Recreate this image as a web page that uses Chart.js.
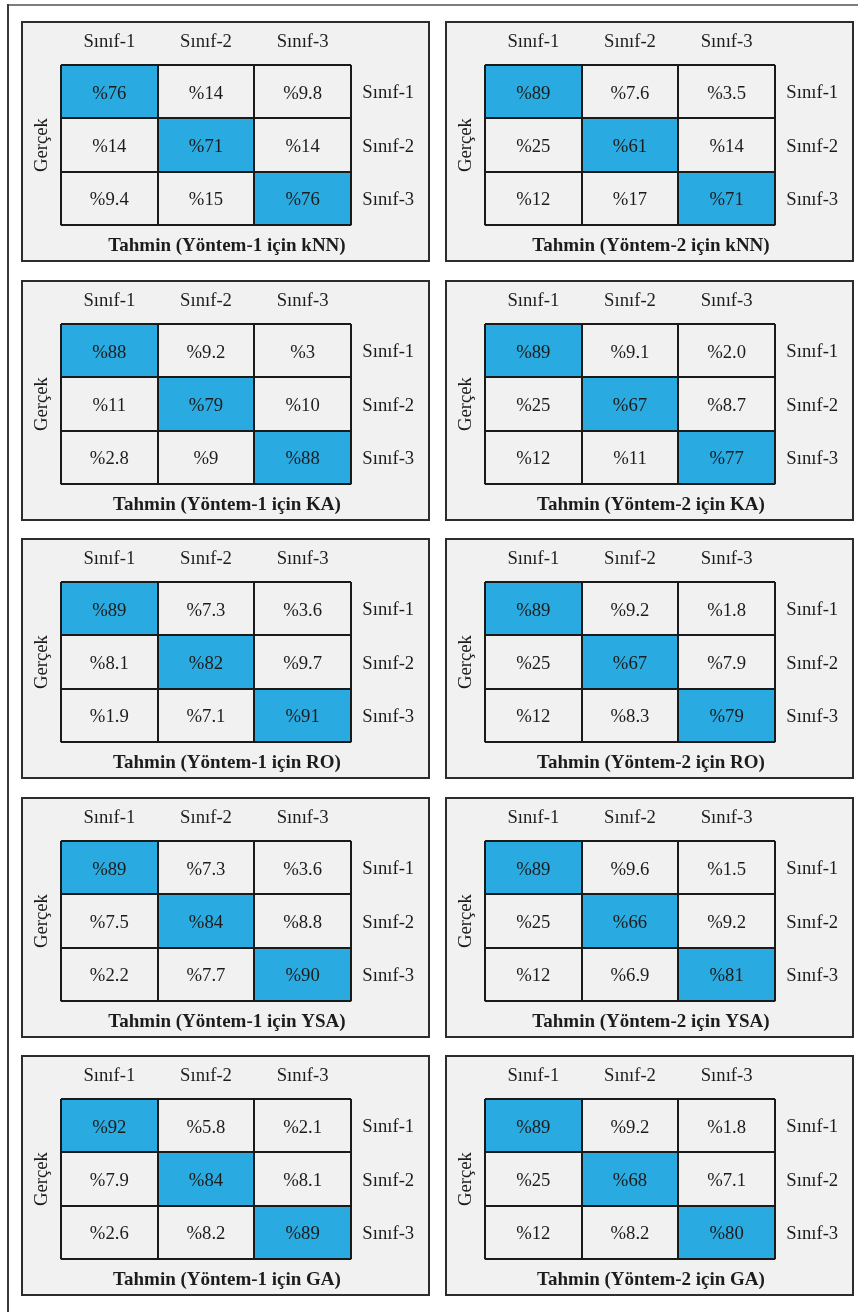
<!DOCTYPE html>
<html lang="tr">
<head>
<meta charset="utf-8">
<title>Karışıklık matrisleri</title>
<script src="https://cdn.jsdelivr.net/npm/chart.js@4.4.1/dist/chart.umd.min.js"></script>
<style>
  html, body { margin: 0; padding: 0; background: #ffffff; }
  body { width: 858px; height: 1312px; position: relative; overflow: hidden; }
  .frame-top { position: absolute; left: 7px; top: 4px; right: 0; height: 2px; background: #7d7d7d; }
  .frame-left { position: absolute; left: 7px; top: 4px; bottom: 0; width: 2px; background: #3a3a3a; }
  canvas { position: absolute; }
</style>
</head>
<body>
<div class="frame-top"></div>
<div class="frame-left"></div>
<script>
// Class names used for predicted (columns) and actual (rows) axes
const classLabels = ['Sınıf-1', 'Sınıf-2', 'Sınıf-3'];

// Confusion matrices in percent, rows = actual class, columns = predicted class
const knnYontem1 = [['76', '14', '9.8'], ['14', '71', '14'], ['9.4', '15', '76']];
const knnYontem2 = [['89', '7.6', '3.5'], ['25', '61', '14'], ['12', '17', '71']];
const kaYontem1  = [['88', '9.2', '3'], ['11', '79', '10'], ['2.8', '9', '88']];
const kaYontem2  = [['89', '9.1', '2.0'], ['25', '67', '8.7'], ['12', '11', '77']];
const roYontem1  = [['89', '7.3', '3.6'], ['8.1', '82', '9.7'], ['1.9', '7.1', '91']];
const roYontem2  = [['89', '9.2', '1.8'], ['25', '67', '7.9'], ['12', '8.3', '79']];
const ysaYontem1 = [['89', '7.3', '3.6'], ['7.5', '84', '8.8'], ['2.2', '7.7', '90']];
const ysaYontem2 = [['89', '9.6', '1.5'], ['25', '66', '9.2'], ['12', '6.9', '81']];
const gaYontem1  = [['92', '5.8', '2.1'], ['7.9', '84', '8.1'], ['2.6', '8.2', '89']];
const gaYontem2  = [['89', '9.2', '1.8'], ['25', '68', '7.1'], ['12', '8.2', '80']];

// Panel order: one row per classifier, Yöntem-1 left and Yöntem-2 right
const methodNames = ['kNN', 'KA', 'RO', 'YSA', 'GA'];
const matricesYontem1 = [knnYontem1, kaYontem1, roYontem1, ysaYontem1, gaYontem1];
const matricesYontem2 = [knnYontem2, kaYontem2, roYontem2, ysaYontem2, gaYontem2];

// ---- styling / layout ----
const FONT = '"Liberation Serif", "Times New Roman", serif';
const FONT_SIZE = 18.7;
const TEXT_COLOR = '#1c1c1c';
const DIAG_COLOR = '#29aae1';
const CELL_COLOR = '#f1f1f1';
const PANEL_BG = '#f1f1f1';
const PANEL_BORDER = '#2c2c2c';
const GRID_COLOR = '#1a1a1a';

const PANEL_W = 409, PANEL_H = 241;
const PANEL_LEFT = [21, 445];
const PANEL_TOP = [21, 280, 538, 797, 1055];

const panelFrame = {
  id: 'panelFrame',
  beforeDraw(chart) {
    const { ctx, width, height } = chart;
    ctx.save();
    ctx.fillStyle = PANEL_BG;
    ctx.fillRect(0, 0, width, height);
    ctx.restore();
  },
  afterDraw(chart) {
    const { ctx, width, height } = chart;
    ctx.save();
    ctx.strokeStyle = PANEL_BORDER;
    ctx.lineWidth = 2;
    ctx.strokeRect(1, 1, width - 2, height - 2);
    ctx.restore();
  }
};

const cellText = {
  id: 'cellText',
  afterDatasetsDraw(chart) {
    const ctx = chart.ctx;
    ctx.save();
    ctx.font = FONT_SIZE + 'px ' + FONT;
    ctx.fillStyle = TEXT_COLOR;
    ctx.textAlign = 'center';
    ctx.textBaseline = 'middle';
    chart.data.datasets.forEach((ds, i) => {
      chart.getDatasetMeta(i).data.forEach((bar, j) => {
        const cy = (bar.y + bar.base) / 2;
        ctx.fillText('%' + ds.data[j].text, bar.x, cy + 2);
      });
    });
    ctx.restore();
  }
};

function buildDatasets(matrix) {
  return matrix.map((row, r) => ({
    label: classLabels[r],
    data: row.map((text, c) => ({ x: classLabels[c], y: [r, r + 1], v: Number(text), text })),
    backgroundColor: row.map((_, c) => (c === r ? DIAG_COLOR : CELL_COLOR)),
    borderWidth: 0,
    grouped: false,
    barPercentage: 1,
    categoryPercentage: 1
  }));
}

function makePanel(matrix, yontem, method, left, top) {
  const canvas = document.createElement('canvas');
  canvas.width = PANEL_W;
  canvas.height = PANEL_H;
  canvas.style.left = left + 'px';
  canvas.style.top = top + 'px';
  canvas.style.width = PANEL_W + 'px';
  canvas.style.height = PANEL_H + 'px';
  document.body.appendChild(canvas);

  const tickFont = { family: FONT, size: FONT_SIZE };

  new Chart(canvas, {
    type: 'bar',
    data: { labels: classLabels, datasets: buildDatasets(matrix) },
    plugins: [panelFrame, cellText],
    options: {
      responsive: false,
      devicePixelRatio: 1,
      animation: false,
      layout: { padding: { left: 3, right: 0, top: 0, bottom: 0 } },
      plugins: {
        legend: { display: false },
        tooltip: { enabled: false },
        title: {
          display: true,
          position: 'bottom',
          text: 'Tahmin (Yöntem-' + yontem + ' için ' + method + ')',
          color: TEXT_COLOR,
          font: { family: FONT, size: 19, weight: 'bold' },
          padding: { top: 9, bottom: 5 }
        }
      },
      scales: {
        x: {
          type: 'category',
          position: 'top',
          offset: true,
          grid: { display: true, offset: true, color: GRID_COLOR, lineWidth: 2, drawTicks: false, z: 1 },
          border: { display: false },
          ticks: { font: tickFont, color: TEXT_COLOR, padding: 11.5, maxRotation: 0 },
          afterFit(scale) { scale.height = 44; }
        },
        y: {
          type: 'linear',
          position: 'left',
          min: 0,
          max: 3,
          reverse: true,
          grid: { display: false, drawTicks: false },
          border: { display: false },
          ticks: { display: false },
          title: {
            display: true,
            text: 'Gerçek',
            color: TEXT_COLOR,
            font: { family: FONT, size: FONT_SIZE },
            padding: { top: 7, bottom: 0 }
          },
          afterFit(scale) { scale.width = 37; }
        },
        y2: {
          type: 'category',
          position: 'right',
          labels: classLabels,
          offset: true,
          grid: { display: true, offset: true, color: GRID_COLOR, lineWidth: 2, drawTicks: false, z: 1 },
          border: { display: false },
          ticks: { font: tickFont, color: TEXT_COLOR, padding: 11.3, labelOffset: 1.5 },
          afterFit(scale) { scale.width = 79; }
        }
      }
    }
  });
}

methodNames.forEach((method, i) => {
  makePanel(matricesYontem1[i], 1, method, PANEL_LEFT[0], PANEL_TOP[i]);
  makePanel(matricesYontem2[i], 2, method, PANEL_LEFT[1], PANEL_TOP[i]);
});
</script>
</body>
</html>
